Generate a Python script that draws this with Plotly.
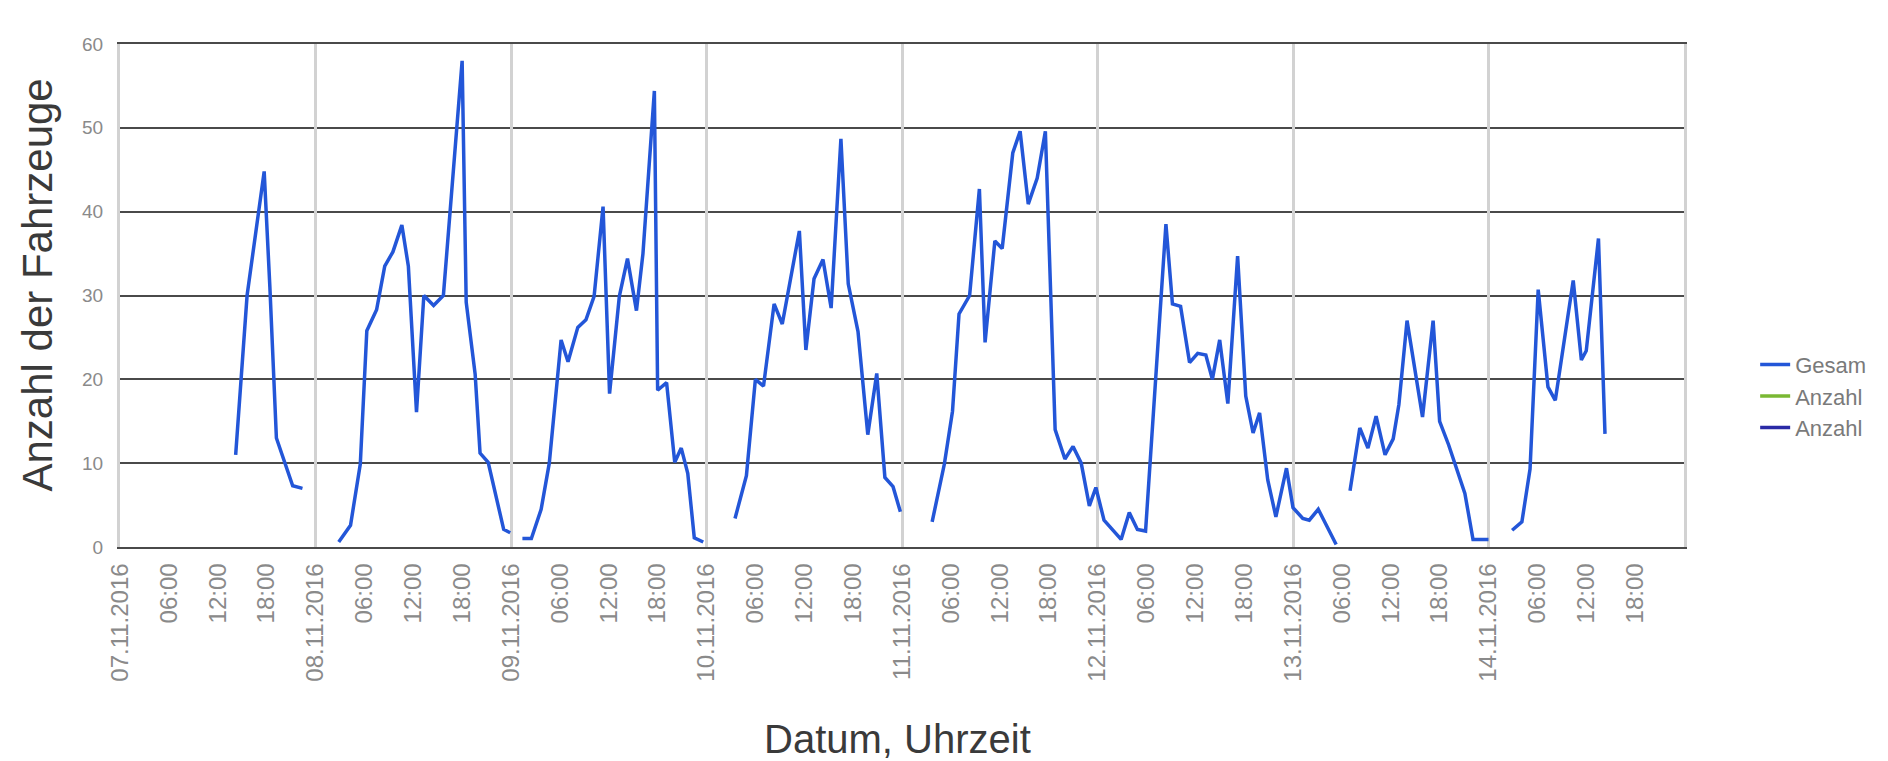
import datetime as dt
import plotly.graph_objects as go

START = dt.datetime(2016, 11, 7)

# Messabschnitte: Stunden seit Beginn des jeweiligen Tages, Anzahl der Fahrzeuge
day_07 = "2016-11-07"
hours_07 = [14.2, 15.6, 17.7, 18.4, 19.2, 20.2, 21.2, 22.4]
count_07 = [11, 30, 44.8, 31, 13, 10, 7.3, 7]

day_08 = "2016-11-08"
hours_08 = [2.85, 4.3, 5.5, 6.3, 7.5, 8.5, 9.5, 10.6, 11.4, 12.4, 13.3, 14.5, 15.7,
            18.0, 18.5, 19.6, 20.2, 21.2, 23.1, 23.9]
count_08 = [0.6, 2.6, 9.9, 25.8, 28.3, 33.5, 35.2, 38.4, 33.5, 16.1, 30, 28.8, 30,
            58, 29.2, 20.6, 11.2, 10.1, 2.1, 1.7]

day_09 = "2016-11-09"
hours_09 = [1.4, 2.5, 3.7, 4.7, 6.15, 7.0, 8.2, 9.2, 10.2, 11.3, 12.1, 13.3, 14.3,
            15.4, 16.2, 17.6, 18.0, 19.1, 20.1, 20.9, 21.7, 22.5, 23.6]
count_09 = [1, 1, 4.5, 10, 24.7, 22.1, 26.2, 27.1, 29.9, 40.6, 18.3, 29.9, 34.4,
            28.2, 35, 54.4, 18.7, 19.6, 10.1, 11.8, 8.8, 1.1, 0.6]

day_10 = "2016-11-10"
hours_10 = [3.5, 4.9, 6.0, 7.0, 8.3, 9.3, 11.4, 12.2, 13.2, 14.3, 15.3, 16.5, 17.4,
            18.6, 19.8, 20.9, 21.9, 22.9, 23.8]
count_10 = [3.4, 8.5, 20, 19.2, 29, 26.6, 37.7, 23.5, 32, 34.3, 28.5, 48.7, 31.4,
            25.7, 13.4, 20.7, 8.3, 7.2, 4.2]

# 11.11. bis 13.11. morgens ohne Unterbrechung
day_11 = "2016-11-11"
hours_11 = [3.7, 5.2, 6.2, 7.0, 8.3, 9.5, 10.2, 11.4, 12.3, 13.6, 14.5, 15.5, 16.6,
            17.6, 18.8, 20.0, 21.0, 22.0, 23.0, 23.8,
            24.8, 26.9, 27.9, 28.9, 29.9, 32.4, 33.2, 34.2, 35.3, 36.3, 37.3, 38.1,
            39.0, 40.0, 41.2, 42.2, 43.1, 43.9, 44.9, 45.9, 47.2,
            48.0, 49.2, 50.0, 51.1, 53.3]
count_11 = [3, 9.9, 16.2, 27.8, 30, 42.7, 24.4, 36.5, 35.6, 47, 49.6, 40.9, 44,
            49.6, 14, 10.5, 12, 10, 4.9, 7.1,
            3.2, 0.9, 4.1, 2.1, 1.9, 38.5, 29, 28.7, 22, 23.1, 22.9, 20,
            24.7, 17.1, 34.7, 18, 13.6, 16, 8, 3.6, 9.4,
            4.7, 3.4, 3.2, 4.5, 0.3]

day_13 = "2016-11-13"
hours_13 = [7.0, 8.2, 9.2, 10.2, 11.3, 12.3, 13.0, 14.0, 15.9, 17.2, 18.0, 19.1,
            21.1, 22.1, 24.0]
count_13 = [6.7, 14.2, 11.8, 15.6, 11, 12.9, 17, 27, 15.5, 27, 15, 12.2,
            6.4, 0.9, 0.9]

day_14 = "2016-11-14"
hours_14 = [2.9, 4.1, 5.1, 6.1, 7.3, 8.2, 10.4, 11.4, 12.0, 13.5, 14.3]
count_14 = [2, 3, 9.3, 30.7, 19.1, 17.5, 31.8, 22.3, 23.4, 36.8, 13.5]

DAY_LABELS = ["07.11.2016", "08.11.2016", "09.11.2016", "10.11.2016",
              "11.11.2016", "12.11.2016", "13.11.2016", "14.11.2016"]
HOUR_LABELS = ["06:00", "12:00", "18:00"]

LEGEND_NAMES = ["Gesam", "Anzahl", "Anzahl"]
COLORS = ["#2356d8", "#7ab833", "#2a2aa6"]
FONT = "Liberation Sans, Arial, sans-serif"

segments = [
    (day_07, hours_07, count_07),
    (day_08, hours_08, count_08),
    (day_09, hours_09, count_09),
    (day_10, hours_10, count_10),
    (day_11, hours_11, count_11),
    (day_13, hours_13, count_13),
    (day_14, hours_14, count_14),
]

xs, ys = [], []
for day, hrs, cnt in segments:
    base = dt.datetime.strptime(day, "%Y-%m-%d")
    xs += [base + dt.timedelta(hours=h) for h in hrs] + [None]
    ys += list(cnt) + [None]

# Achsenbeschriftung alle 6 Stunden, Datum um Mitternacht
tickvals, ticktext = [], []
for i, lab in enumerate(DAY_LABELS):
    d0 = START + dt.timedelta(days=i)
    tickvals.append(d0)
    ticktext.append(lab)
    for j, hl in enumerate(HOUR_LABELS):
        tickvals.append(d0 + dt.timedelta(hours=6 * (j + 1)))
        ticktext.append(hl)
day_lines = [START + dt.timedelta(days=i) for i in range(len(DAY_LABELS) + 1)]
x_range = [START, START + dt.timedelta(days=len(DAY_LABELS))]

fig = go.Figure()
fig.add_trace(go.Scatter(
    x=xs, y=ys, mode="lines", name=LEGEND_NAMES[0],
    line=dict(color=COLORS[0], width=3.5), connectgaps=False,
))
for name, col in zip(LEGEND_NAMES[1:], COLORS[1:]):
    fig.add_trace(go.Scatter(
        x=[None], y=[None], mode="lines", name=name, xaxis="x2",
        line=dict(color=col, width=3.5),
    ))

fig.update_layout(
    width=1888, height=761,
    paper_bgcolor="white", plot_bgcolor="white",
    margin=dict(l=112, r=212, t=36, b=222, autoexpand=False),
    font=dict(family=FONT),
    showlegend=True,
    legend=dict(
        x=1.0455, xanchor="left", y=0.30, yanchor="middle",
        font=dict(size=22, color="#7a7a7a", family=FONT),
        bgcolor="rgba(0,0,0,0)", itemwidth=30, tracegroupgap=0,
    ),
    xaxis=dict(
        type="date", range=x_range,
        tickmode="array", tickvals=tickvals, ticktext=ticktext,
        tickangle=-90, tickfont=dict(size=24, color="#8a8a8a"),
        ticks="", ticklabelstandoff=5,
        showgrid=False, zeroline=False,
        showline=True, mirror=True, linecolor="#4a4a4a", linewidth=1.5,
    ),
    xaxis2=dict(
        type="date", range=x_range, overlaying="x", anchor="y",
        tickmode="array", tickvals=day_lines, showticklabels=False, ticks="",
        showgrid=True, gridcolor="#d2d2d2", gridwidth=3, zeroline=False,
    ),
    yaxis=dict(
        range=[0, 60], dtick=10, tick0=0,
        tickfont=dict(size=19, color="#8a8a8a"),
        ticks="", ticklabelstandoff=10,
        showgrid=True, gridcolor="#4a4a4a", gridwidth=1.5, zeroline=False,
        showline=True, mirror=True, linecolor="#d2d2d2", linewidth=3,
    ),
    annotations=[
        dict(text="Anzahl der Fahrzeuge", xref="paper", yref="paper",
             x=-0.053, y=0.52, xanchor="center", yanchor="middle",
             textangle=-90, showarrow=False,
             font=dict(size=42, color="#3a3a3a", family=FONT)),
        dict(text="Datum, Uhrzeit", xref="paper", yref="paper",
             x=0.497, y=-0.382, xanchor="center", yanchor="middle",
             showarrow=False, font=dict(size=40, color="#3a3a3a", family=FONT)),
    ],
)

fig.write_html("out.html")
